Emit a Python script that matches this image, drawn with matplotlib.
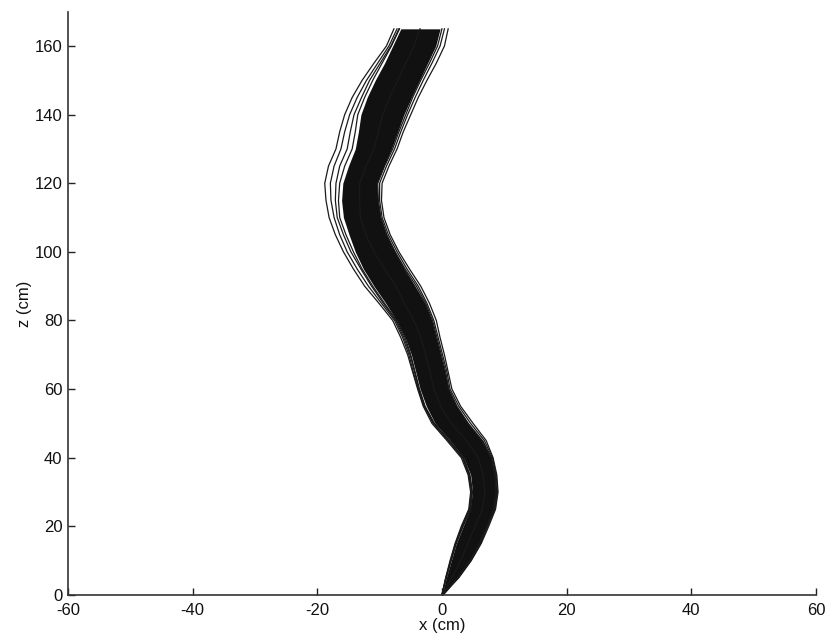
import matplotlib
matplotlib.use("Agg")
import matplotlib.pyplot as plt

plt.rcParams['font.family'] = ['Liberation Sans', 'DejaVu Sans']
plt.rcParams['axes.unicode_minus'] = False

z_levels = [0, 5, 10, 15, 20, 25, 30, 35, 40, 45, 50, 55, 60, 65, 70, 75, 80,
            85, 90, 95, 100, 105, 110, 115, 120, 125, 130, 135, 140, 145, 150,
            155, 160, 165]

# Dense core of the trajectory bundle (left / right edge, x in cm)
core_left = [0.0, 0.7, 1.5, 2.3, 3.4, 4.5, 4.9, 4.6, 3.5, 1.3, -1.1, -2.5,
             -3.5, -4.2, -4.9, -5.9, -7.3, -9.0, -10.9, -12.6, -13.9, -14.9,
             -15.8, -16.1, -15.9, -15.0, -13.9, -13.4, -13.0, -12.0, -10.7,
             -9.2, -7.9, -6.6]
core_right = [0.2, 2.6, 4.6, 6.1, 7.3, 8.4, 8.8, 8.6, 8.0, 6.6, 4.3, 2.4,
              1.1, 0.5, -0.2, -0.9, -1.6, -2.7, -4.3, -6.0, -7.5, -8.8,
              -9.8, -10.3, -10.4, -9.3, -8.1, -7.1, -6.1, -4.9, -3.6,
              -2.3, -1.0, -0.3]

# Individual trajectories visible outside / along the core
traj_left_1 = [0.0, 0.6, 1.3, 2.1, 3.1, 4.3, 4.6, 4.2, 3.1, 0.8, -1.6, -3.0,
               -3.9, -4.7, -5.5, -6.6, -7.9, -10.1, -12.4, -14.2, -15.8,
               -17.1, -18.1, -18.6, -18.8, -18.2, -17.0, -16.4, -15.6, -14.4,
               -12.8, -10.9, -8.9, -7.7]
traj_left_2 = [0.0, 0.6, 1.4, 2.2, 3.2, 4.4, 4.7, 4.3, 3.3, 1.0, -1.4, -2.9,
               -3.8, -4.6, -5.3, -6.3, -7.6, -9.7, -11.8, -13.6, -15.2,
               -16.4, -17.3, -17.8, -17.9, -17.3, -16.2, -15.6, -14.8, -13.6,
               -12.1, -10.3, -8.5, -7.2]
traj_left_3 = [0.0, 0.7, 1.4, 2.2, 3.3, 4.5, 4.8, 4.4, 3.4, 1.1, -1.3, -2.8,
               -3.7, -4.4, -5.1, -6.1, -7.4, -9.4, -11.3, -13.0, -14.6,
               -15.8, -16.8, -17.1, -17.0, -16.4, -15.2, -14.7, -14.1, -12.9,
               -11.6, -9.9, -8.2, -6.9]
traj_left_4 = [0.0, 0.7, 1.5, 2.3, 3.4, 4.6, 4.9, 4.5, 3.5, 1.2, -1.2, -2.7,
               -3.6, -4.3, -5.0, -5.9, -7.3, -9.2, -11.1, -12.8, -14.2,
               -15.4, -16.4, -16.6, -16.4, -15.6, -14.4, -13.9, -13.5, -12.4,
               -11.1, -9.6, -8.1, -6.8]
traj_right_1 = [0.0, 2.7, 4.7, 6.3, 7.5, 8.6, 9.0, 8.8, 8.2, 7.1, 5.0, 3.0,
                1.6, 1.0, 0.4, -0.3, -0.9, -2.0, -3.4, -5.2, -6.9, -8.3,
                -9.3, -9.7, -9.6, -8.5, -7.2, -6.2, -5.0, -3.8, -2.4, -0.9,
                0.4, 1.0]
traj_right_2 = [0.0, 2.6, 4.6, 6.2, 7.3, 8.5, 8.9, 8.7, 8.1, 6.8, 4.6, 2.7,
                1.3, 0.8, 0.1, -0.6, -1.3, -2.4, -3.8, -5.6, -7.2, -8.6,
                -9.6, -10.0, -10.0, -8.9, -7.6, -6.6, -5.5, -4.3, -3.0, -1.6,
                -0.3, 0.4]
traj_right_3 = [0.0, 2.5, 4.5, 6.0, 7.2, 8.3, 8.7, 8.5, 7.9, 6.4, 4.2, 2.4,
                1.1, 0.6, -0.1, -0.8, -1.5, -2.6, -4.1, -5.9, -7.5, -8.9,
                -9.8, -10.2, -10.3, -9.2, -7.9, -6.9, -5.8, -4.7, -3.4, -2.0,
                -0.7, 0.0]
traj_center = [0.0, 1.6, 3.0, 4.2, 5.3, 6.5, 6.9, 6.6, 5.8, 3.9, 1.5, -0.2,
               -1.3, -1.9, -2.6, -3.4, -4.5, -6.0, -7.4, -9.2, -10.9, -12.2,
               -13.1, -13.2, -13.2, -12.2, -10.9, -10.2, -9.5, -8.4, -7.1,
               -5.8, -4.5, -3.5]

trajectories = [traj_left_1, traj_left_2, traj_left_3, traj_left_4,
                traj_right_1, traj_right_2, traj_right_3, traj_center]

x_ticks = [-60, -40, -20, 0, 20, 40, 60]
z_ticks = [0, 20, 40, 60, 80, 100, 120, 140, 160]

fig = plt.figure(figsize=(8.28, 6.41), dpi=100)
ax = fig.add_axes([0.082, 0.0718, 0.9035, 0.91])

ax.fill_betweenx(z_levels, core_left, core_right, color='#111111', lw=0)
for tr in trajectories:
    ax.plot(tr, z_levels, color='#1a1a1a', lw=0.9)

ax.set_xlim(-60, 60)
ax.set_ylim(0, 170)
ax.set_xticks(x_ticks)
ax.set_yticks(z_ticks)
ax.tick_params(direction='in', length=5, width=1, labelsize=12,
               colors='#222222', labelcolor='#111111')
ax.tick_params(axis='x', pad=6)
ax.tick_params(axis='y', pad=4)
for s in ['top', 'right']:
    ax.spines[s].set_visible(False)
for s in ['left', 'bottom']:
    ax.spines[s].set_color('#333333')
    ax.spines[s].set_linewidth(1.2)

ax.set_xlabel('x (cm)', fontsize=12, labelpad=0, color='#111111')
ax.set_ylabel('z (cm)', fontsize=12, labelpad=2, color='#111111')

fig.savefig('out.png', dpi=100, facecolor='white')
